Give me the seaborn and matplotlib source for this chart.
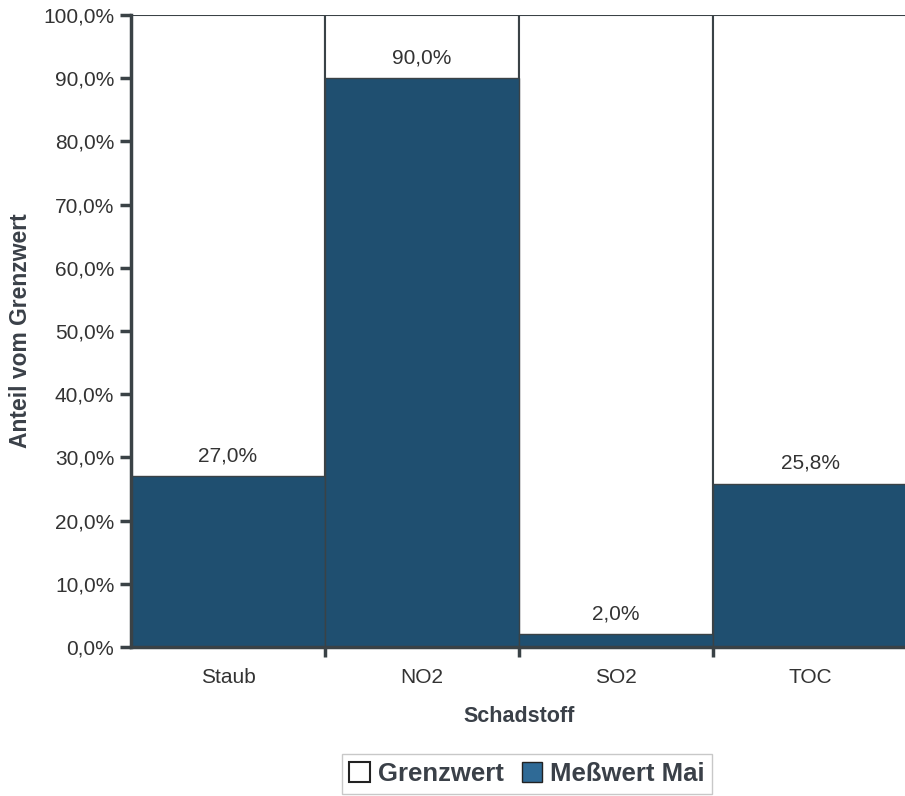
import matplotlib
matplotlib.use("Agg")
import matplotlib.pyplot as plt
import seaborn as sns
import pandas as pd
from matplotlib.patches import Patch
from matplotlib.ticker import FixedLocator, FuncFormatter

categories = ["Staub", "NO2", "SO2", "TOC"]
grenzwert = [100.0, 100.0, 100.0, 100.0]
messwert_mai = [27.0, 90.0, 2.0, 25.8]
y_ticks = [0, 10, 20, 30, 40, 50, 60, 70, 80, 90, 100]

sns.set_theme(style="white")
plt.rcParams['font.family'] = ['Liberation Sans', 'DejaVu Sans']

df = pd.DataFrame({"Schadstoff": categories, "Grenzwert": grenzwert, "Messwert": messwert_mai})

fig = plt.figure(figsize=(9.05, 7.96), dpi=100)
ax = fig.add_axes([131/905, 149/796, 776/905, 632/796])

dark = "#3a4246"
blue = "#1f4f70"

sns.barplot(data=df, x="Schadstoff", y="Grenzwert", color="white", edgecolor=dark,
            linewidth=1.5, width=1.0, ax=ax, saturation=1)
sns.barplot(data=df, x="Schadstoff", y="Messwert", color=blue, edgecolor=dark,
            linewidth=1.0, width=1.0, ax=ax, saturation=1)

cont = ax.containers[-1]
ax.bar_label(cont, labels=[f"{v:.1f}".replace(".", ",") + "%" for v in messwert_mai],
             padding=8, fontsize=15, color="#333333")

ax.set_xlim(-0.5, 3.5)
ax.set_ylim(0, 100)
ax.yaxis.set_major_locator(FixedLocator(y_ticks))
ax.yaxis.set_major_formatter(FuncFormatter(lambda v, p: f"{v:.1f}".replace(".", ",") + "%"))
ax.set_xticks(range(len(categories)))
ax.set_xticklabels(categories)
ax.set_xticks([0.5, 1.5, 2.5], minor=True)

for s in ["top", "right"]:
    ax.spines[s].set_visible(False)
for s in ["left", "bottom"]:
    ax.spines[s].set_color(dark)
    ax.spines[s].set_linewidth(2.5)

ax.tick_params(axis="y", which="major", direction="out", length=8, width=2.5, color=dark,
               labelsize=15, labelcolor="#333333", left=True, pad=4)
ax.tick_params(axis="x", which="major", length=0, labelsize=15, labelcolor="#333333", pad=15)
ax.tick_params(axis="x", which="minor", direction="out", length=7, width=2.5, color=dark, bottom=True)

ax.set_xlabel("Schadstoff", fontsize=15.5, fontweight="bold", color="#3a4048", labelpad=14)
ax.set_ylabel("Anteil vom Grenzwert", fontsize=16.5, fontweight="bold", color="#3a4048", labelpad=8)

handles = [Patch(facecolor="white", edgecolor="#222222", linewidth=1.5, label="Grenzwert"),
           Patch(facecolor="#2f6a96", edgecolor="#222222", linewidth=1.0, label="Meßwert Mai")]
leg = fig.legend(handles=handles, loc="center", bbox_to_anchor=(527/905, 22/796), ncol=2,
                 frameon=True, fancybox=False, edgecolor="#bbbbbb", handlelength=0.8,
                 handleheight=0.8, handletextpad=0.3, columnspacing=0.7, borderpad=0.3,
                 borderaxespad=0, prop={"size": 18.5, "weight": "bold"})
for t in leg.get_texts():
    t.set_color("#3a4048")

fig.savefig("out.png", dpi=100)
